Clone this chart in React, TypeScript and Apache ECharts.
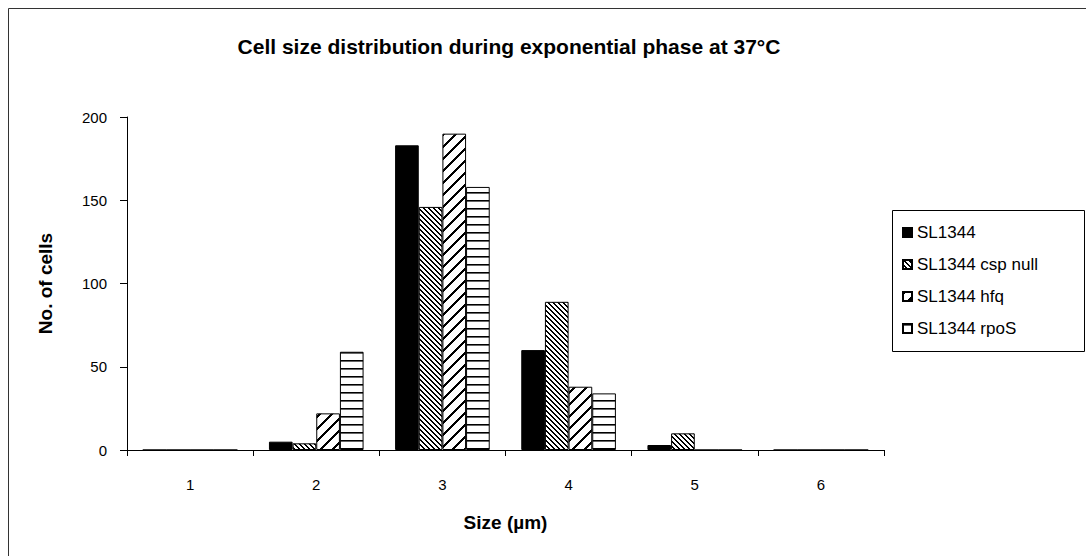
import React, { useEffect, useRef } from "react";
import * as echarts from "echarts";

// Cell length bins (µm)
const categories = ["1", "2", "3", "4", "5", "6"];

// Number of cells per bin for each strain
const sl1344 = [0, 5, 183, 60, 3, 0];
const cspNull = [0, 4, 146, 89, 10, 0];
const hfq = [0, 22, 190, 38, 0, 0];
const rpoS = [0, 59, 158, 34, 0, 0];

const seriesNames = ["SL1344", "SL1344 csp null", "SL1344 hfq", "SL1344 rpoS"];

const yTicks = { min: 0, max: 200, interval: 50 };

const FONT = "Arial, 'Liberation Sans', sans-serif";

// Builds a crisp black/white hatch tile, pixel by pixel.
function hatch(w: number, h: number, isInk: (x: number, y: number) => string | null) {
  const c = document.createElement("canvas");
  c.width = w;
  c.height = h;
  const ctx = c.getContext("2d")!;
  ctx.fillStyle = "#fff";
  ctx.fillRect(0, 0, w, h);
  for (let y = 0; y < h; y++) {
    for (let x = 0; x < w; x++) {
      const col = isInk(x, y);
      if (col) {
        ctx.fillStyle = col;
        ctx.fillRect(x, y, 1, 1);
      }
    }
  }
  return { image: c.toDataURL(), repeat: "repeat", imageWidth: w, imageHeight: h } as any;
}

export default function App() {
  const ref = useRef<HTMLDivElement>(null);

  useEffect(() => {
    if (!ref.current) return;
    const chart = echarts.init(ref.current, undefined, { renderer: "svg" });

    // "\" fine diagonal
    const backDiag = hatch(5, 5, (x, y) => ((((x - y) % 5) + 5) % 5 < 2 ? "#000" : null));
    // "/" wide diagonal
    const fwdDiag = hatch(12, 12, (x, y) => ((x + y) % 12 < 3 ? "#000" : null));
    // horizontal rules
    const horiz = hatch(8, 8, (_x, y) => (y === 0 ? "#000" : y === 1 ? "#666" : null));

    const fills = ["#000", backDiag, fwdDiag, horiz];
    const values = [sl1344, cspNull, hfq, rpoS];

    chart.setOption({
      animation: false,
      backgroundColor: "#fff",
      title: {
        text: "Cell size distribution during exponential phase at 37°C",
        left: 504,
        top: 31,
        textAlign: "center",
        textStyle: { fontFamily: FONT, fontSize: 21, fontWeight: "bold", color: "#000" },
      },
      grid: { left: 127, right: 202, top: 117, bottom: 106, containLabel: false },
      legend: {
        orient: "vertical",
        left: 902,
        top: 224,
        padding: 0,
        icon: "rect",
        itemWidth: 9,
        itemHeight: 9,
        itemGap: 15,
        textStyle: { fontFamily: FONT, fontSize: 17, color: "#000", lineHeight: 17 },
        data: seriesNames,
      },
      xAxis: {
        type: "category",
        data: categories,
        name: "Size (µm)",
        nameLocation: "middle",
        nameGap: 63,
        nameTextStyle: { fontFamily: FONT, fontSize: 19, fontWeight: "bold", color: "#000", verticalAlign: "top" },
        axisLine: { lineStyle: { color: "#000", width: 1 } },
        axisTick: { show: true, length: 6, alignWithLabel: false, lineStyle: { color: "#000" } },
        axisLabel: { fontFamily: FONT, fontSize: 15, color: "#000", margin: 27 },
        splitLine: { show: false },
      },
      yAxis: {
        type: "value",
        min: yTicks.min,
        max: yTicks.max,
        interval: yTicks.interval,
        name: "No. of cells",
        nameLocation: "middle",
        nameGap: 72,
        nameTextStyle: { fontFamily: FONT, fontSize: 19, fontWeight: "bold", color: "#000" },
        axisLine: { show: true, lineStyle: { color: "#000", width: 1 } },
        axisTick: { show: true, length: 7, lineStyle: { color: "#000" } },
        axisLabel: { fontFamily: FONT, fontSize: 15, color: "#000", margin: 20 },
        splitLine: { show: false },
      },
      graphic: [
        {
          type: "rect",
          silent: true,
          shape: { x: 8.5, y: 8.5, width: 1200, height: 700 },
          style: { fill: "none", stroke: "#333", lineWidth: 1 },
          z: 100,
        },
        {
          type: "rect",
          silent: true,
          shape: { x: 892.5, y: 210.5, width: 192, height: 141 },
          style: { fill: "none", stroke: "#000", lineWidth: 1 },
          z: 100,
        },
      ],
      series: seriesNames.map((name, i) => ({
        name,
        type: "bar",
        data: values[i],
        barGap: "0%",
        barCategoryGap: "25%",
        itemStyle: { color: fills[i], borderColor: "#000", borderWidth: 1 },
      })),
    });

    return () => chart.dispose();
  }, []);

  return (
    <div
      ref={ref}
      style={{ position: "absolute", left: 0, top: 0, width: 1086, height: 556 }}
    />
  );
}
